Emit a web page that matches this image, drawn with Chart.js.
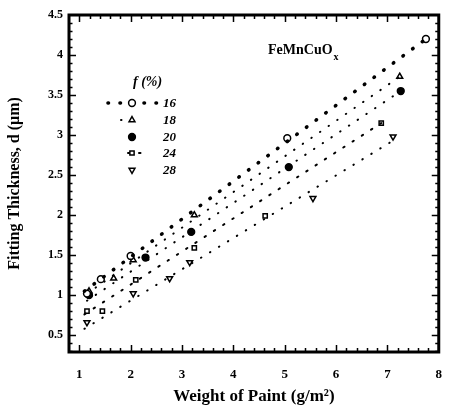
<!DOCTYPE html>
<html>
<head>
<meta charset="utf-8">
<script src="https://cdn.jsdelivr.net/npm/chart.js@4/dist/chart.umd.min.js"></script>
<style>
  body { margin: 0; background: #fff; }
  canvas { display: block; }
</style>
</head>
<body>
<canvas id="paintChart" width="457" height="412"></canvas>
<script>
// Values: weight of paint (g/m2) vs fitted thickness d (um)
const fractions = ['16', '18', '20', '24', '28'];

const weight16 = [1.15, 1.42, 2.0, 5.05, 7.75];
const thick16  = [1.02, 1.20, 1.49, 2.96, 4.20];
const weight18 = [1.19, 1.67, 2.05, 3.24, 7.24];
const thick18  = [1.05, 1.21, 1.44, 2.00, 3.73];
const weight20 = [1.19, 2.29, 3.18, 5.08, 7.26];
const thick20  = [1.00, 1.47, 1.79, 2.60, 3.55];
const weight24 = [1.15, 1.45, 2.10, 3.24, 4.62, 6.88];
const thick24  = [0.80, 0.80, 1.19, 1.59, 1.99, 3.15];
const weight28 = [1.15, 2.05, 2.76, 3.15, 5.55, 7.11];
const thick28  = [0.66, 1.02, 1.21, 1.41, 2.21, 2.98];

// fitted straight lines (end points)
const fitWeight16 = [1.10, 7.75], fitThick16 = [1.05, 4.20];
const fitWeight18 = [1.15, 7.24], fitThick18 = [1.02, 3.73];
const fitWeight20 = [1.15, 7.26], fitThick20 = [0.93, 3.55];
const fitWeight24 = [1.10, 6.88], fitThick24 = [0.76, 3.15];
const fitWeight28 = [1.10, 7.11], fitThick28 = [0.58, 2.93];

const xTicks = [1, 2, 3, 4, 5, 6, 7, 8];
const yTicks = [0.5, 1, 1.5, 2, 2.5, 3, 3.5, 4, 4.5];

const serif = '"Liberation Serif", "DejaVu Serif", serif';

function toPoints(xs, ys) {
    return xs.map((x, i) => ({ x: x, y: ys[i] }));
}

// marker and line style per fraction
const styles = {
    '16': { point: 'circle', rotation: 0, fill: '#fff', dash: [0.5, 11.5], width: 3.6 },
    '18': { point: 'triangle', rotation: 0, fill: '#fff', dash: [0.5, 10], width: 2 },
    '20': { point: 'circle', rotation: 0, fill: '#000', dash: [0.5, 10], width: 2 },
    '24': { point: 'rect', rotation: 0, fill: '#fff', dash: [1.5, 9.5], width: 2 },
    '28': { point: 'triangle', rotation: 180, fill: '#fff', dash: [0.5, 10], width: 2 }
};

const series = {
    '16': [weight16, thick16, fitWeight16, fitThick16],
    '18': [weight18, thick18, fitWeight18, fitThick18],
    '20': [weight20, thick20, fitWeight20, fitThick20],
    '24': [weight24, thick24, fitWeight24, fitThick24],
    '28': [weight28, thick28, fitWeight28, fitThick28]
};

const datasets = [];
fractions.forEach(f => {
    const s = styles[f];
    const [xs, ys, fx, fy] = series[f];
    datasets.push({
        label: 'fit ' + f,
        data: toPoints(fx, fy),
        showLine: true,
        pointRadius: 0,
        borderColor: '#000',
        borderWidth: s.width,
        borderDash: s.dash,
        borderCapStyle: 'round'
    });
    datasets.push({
        label: f,
        data: toPoints(xs, ys),
        showLine: false,
        pointStyle: s.point,
        rotation: s.rotation,
        pointRadius: s.point === 'rect' ? 3 : 3.4,
        pointBackgroundColor: s.fill,
        pointBorderColor: '#000',
        pointBorderWidth: 1.5
    });
});

// frame, inward ticks, in-plot legend and the sample label
const framePlugin = {
    id: 'frame',
    afterDraw(chart) {
        const ctx = chart.ctx;
        const area = chart.chartArea;
        const xs = chart.scales.x, ys = chart.scales.y;
        ctx.save();
        ctx.strokeStyle = '#000';
        ctx.setLineDash([]);

        // ticks
        ctx.lineWidth = 1.5;
        for (let v = 1; v <= 7.95; v += 0.2) {
            const major = Math.abs(v - Math.round(v)) < 0.01;
            const len = major ? 7 : 4;
            const px = Math.round(xs.getPixelForValue(v)) + 0.5;
            ctx.beginPath();
            ctx.moveTo(px, area.bottom); ctx.lineTo(px, area.bottom - len);
            ctx.moveTo(px, area.top); ctx.lineTo(px, area.top + len);
            ctx.stroke();
        }
        for (let v = 0.3; v <= 4.45; v += 0.1) {
            const major = Math.abs(v * 2 - Math.round(v * 2)) < 0.01;
            const len = major ? 7 : 3.5;
            const py = Math.round(ys.getPixelForValue(v)) + 0.5;
            ctx.beginPath();
            ctx.moveTo(area.left, py); ctx.lineTo(area.left + len, py);
            ctx.moveTo(area.right, py); ctx.lineTo(area.right - len, py);
            ctx.stroke();
        }

        // box
        ctx.lineWidth = 3;
        ctx.strokeRect(area.left, area.top, area.right - area.left, area.bottom - area.top);

        // legend
        ctx.fillStyle = '#000';
        ctx.textBaseline = 'middle';
        ctx.font = 'italic bold 14px ' + serif;
        ctx.fillText('f (%)', 133, 82);
        const rowY = [103, 120, 137, 153, 170];
        const sample = { '16': [108, 157], '18': [121, 140], '20': null, '24': [128, 148], '28': null };
        fractions.forEach((f, i) => {
            const s = styles[f];
            if (sample[f]) {
                ctx.save();
                ctx.lineWidth = s.width;
                ctx.lineCap = 'round';
                ctx.setLineDash(s.dash);
                ctx.beginPath();
                ctx.moveTo(sample[f][0], rowY[i]);
                ctx.lineTo(sample[f][1], rowY[i]);
                ctx.stroke();
                ctx.restore();
            }
            ctx.save();
            ctx.fillStyle = s.fill;
            ctx.lineWidth = 1.5;
            Chart.helpers.drawPoint(ctx, {
                pointStyle: s.point,
                rotation: s.rotation,
                radius: s.point === 'rect' ? 3 : 3.4,
                borderWidth: 1.5
            }, 132, rowY[i]);
            ctx.restore();
            ctx.fillStyle = '#000';
            ctx.font = 'italic bold 13px ' + serif;
            ctx.fillText(f, 163, rowY[i] + 1);
        });

        // sample name with subscript
        ctx.font = 'bold 14px ' + serif;
        ctx.fillText('FeMnCuO', 268, 50);
        const w = ctx.measureText('FeMnCuO').width;
        ctx.font = 'bold 10px ' + serif;
        ctx.fillText('x', 268 + w + 1, 57);
        ctx.restore();
    }
};

new Chart(document.getElementById('paintChart'), {
    type: 'scatter',
    data: { datasets: datasets },
    options: {
        responsive: false,
        devicePixelRatio: 1,
        animation: false,
        layout: { padding: { left: 0, top: 15, right: 8, bottom: 0 } },
        plugins: { legend: { display: false }, tooltip: { enabled: false } },
        scales: {
            x: {
                type: 'linear',
                min: 0.8,
                max: 8,
                afterBuildTicks: scale => { scale.ticks = xTicks.map(v => ({ value: v })); },
                afterFit: scale => { scale.height = 60; },
                grid: { display: false, drawTicks: false },
                border: { display: false },
                ticks: {
                    color: '#000',
                    padding: 15,
                    maxRotation: 0,
                    font: { family: serif, size: 13, weight: 'bold' },
                    callback: v => String(v)
                },
                title: {
                    display: true,
                    text: 'Weight of Paint (g/m²)',
                    color: '#000',
                    padding: { top: 0, bottom: 5 },
                    font: { family: serif, size: 17, weight: 'bold' }
                }
            },
            y: {
                type: 'linear',
                min: 0.29,
                max: 4.5,
                afterBuildTicks: scale => { scale.ticks = yTicks.map(v => ({ value: v })); },
                afterFit: scale => { scale.width = 69; },
                grid: { display: false, drawTicks: false },
                border: { display: false },
                ticks: {
                    color: '#000',
                    padding: 6,
                    font: { family: serif, size: 12, weight: 'bold' },
                    callback: v => String(v)
                },
                title: {
                    display: true,
                    text: 'Fitting Thickness, d (μm)',
                    color: '#000',
                    padding: { top: 5, bottom: 0 },
                    font: { family: serif, size: 16, weight: 'bold' }
                }
            }
        }
    },
    plugins: [framePlugin]
});
</script>
</body>
</html>
